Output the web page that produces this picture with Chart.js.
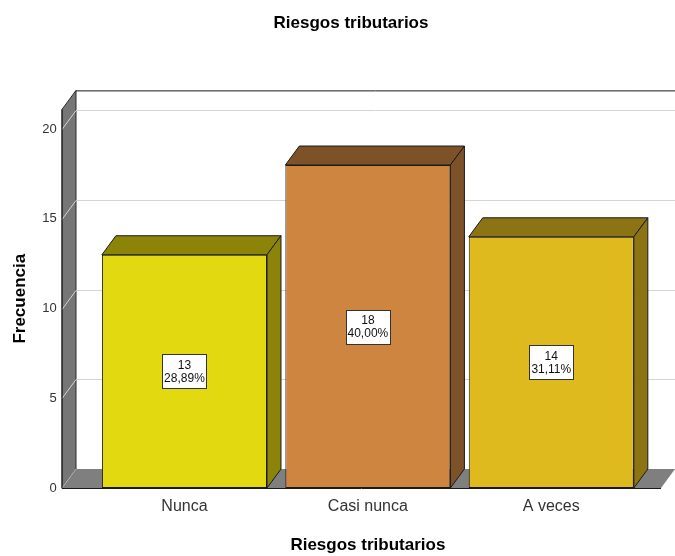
<!DOCTYPE html>
<html lang="es">
<head>
  <meta charset="UTF-8" />
  <title>Riesgos tributarios</title>
  <script src="https://cdnjs.cloudflare.com/ajax/libs/Chart.js/4.4.1/chart.umd.min.js"></script>
  <style>
    body { margin: 0; background: #fff; }
    #wrap { width: 675px; height: 556px; }
  </style>
</head>
<body>
  <div id="wrap"><canvas id="chart" width="675" height="556"></canvas></div>
  <script>
    const categories = ['Nunca', 'Casi nunca', 'A veces'];
    const counts = [13, 18, 14];
    const yTicks = [0, 5, 10, 15, 20];
    const yMax = 21.1;

    const frontColors = ['#E2D911', '#CD853F', '#DFBA1E'];
    const shadeColors = ['#8B8409', '#7E5229', '#8C7414'];

    const total = counts.reduce((s, v) => s + v, 0);
    const pct = v => (v / total * 100).toFixed(2).replace('.', ',') + '%';

    // depth of the 3d look
    const DX = 14, DY = -19;
    const WALL_X = 62;

    function poly(ctx, pts, fill, stroke) {
      ctx.beginPath();
      ctx.moveTo(pts[0][0], pts[0][1]);
      for (let i = 1; i < pts.length; i++) ctx.lineTo(pts[i][0], pts[i][1]);
      ctx.closePath();
      if (fill) { ctx.fillStyle = fill; ctx.fill(); }
      if (stroke) { ctx.strokeStyle = stroke; ctx.lineWidth = 1; ctx.stroke(); }
    }

    function line(ctx, pts, color) {
      ctx.beginPath();
      ctx.moveTo(pts[0][0], pts[0][1]);
      for (let i = 1; i < pts.length; i++) ctx.lineTo(pts[i][0], pts[i][1]);
      ctx.strokeStyle = color;
      ctx.lineWidth = 1;
      ctx.stroke();
    }

    const box3d = {
      id: 'box3d',
      afterLayout(chart) {
        // SPSS puts the title a bit right of the page centre
        chart.titleBlock.left = 27;
        chart.titleBlock.right = chart.width;
      },
      beforeDatasetsDraw(chart) {
        const { ctx, chartArea: a, scales: { y } } = chart;
        const right = chart.width;
        const top = a.top, bot = a.bottom;
        ctx.save();

        // left wall
        poly(ctx, [[WALL_X, top], [WALL_X + DX, top + DY], [WALL_X + DX, bot + DY], [WALL_X, bot]], '#767676', '#2a2a2a');

        // grid lines: diagonal on the wall, flat on the back
        yTicks.forEach(v => {
          const yy = Math.round(y.getPixelForValue(v)) + 0.5;
          line(ctx, [[WALL_X, yy], [WALL_X + DX, yy + DY], [right, yy + DY]], '#d4d4d4');
        });

        // back wall top edge
        line(ctx, [[WALL_X + DX, top + DY + 0.5], [right, top + DY + 0.5]], '#1a1a1a');

        // floor
        poly(ctx, [[WALL_X, bot], [WALL_X + DX, bot + DY], [right, bot + DY], [right - DX, bot]], '#7f7f7f', null);
        line(ctx, [[WALL_X, bot], [WALL_X + DX, bot + DY]], '#b0b0b0');
        line(ctx, [[WALL_X, top], [WALL_X, bot + 0.5], [right - DX, bot + 0.5]], '#1a1a1a');
        ctx.restore();
      },
      afterDatasetsDraw(chart) {
        const { ctx } = chart;
        const meta = chart.getDatasetMeta(0);
        ctx.save();
        meta.data.forEach((bar, i) => {
          const l = bar.x - bar.width / 2, r = bar.x + bar.width / 2;
          const t = bar.y, b = bar.base;
          poly(ctx, [[l, t], [l + DX, t + DY], [r + DX, t + DY], [r, t]], shadeColors[i], '#1a1a1a');
          poly(ctx, [[r, t], [r + DX, t + DY], [r + DX, b + DY], [r, b]], shadeColors[i], '#1a1a1a');

          // value label box
          const cx = bar.x, cy = (t + b) / 2;
          const w = 44, h = 34;
          ctx.fillStyle = '#fff';
          ctx.fillRect(Math.round(cx - w / 2), Math.round(cy - h / 2), w, h);
          ctx.strokeStyle = '#333';
          ctx.strokeRect(Math.round(cx - w / 2) + 0.5, Math.round(cy - h / 2) + 0.5, w, h);
          ctx.fillStyle = '#111';
          ctx.font = '12px "Liberation Sans", Arial, sans-serif';
          ctx.textAlign = 'center';
          ctx.textBaseline = 'middle';
          ctx.fillText(String(counts[i]), cx, cy - 6);
          ctx.fillText(pct(counts[i]), cx, cy + 7);
        });
        ctx.restore();
      }
    };

    Chart.defaults.font.family = '"Liberation Sans", Arial, sans-serif';

    new Chart(document.getElementById('chart'), {
      type: 'bar',
      data: {
        labels: categories,
        datasets: [{
          data: counts,
          backgroundColor: frontColors,
          borderColor: '#1a1a1a',
          borderWidth: 1,
          borderSkipped: false,
          barPercentage: 0.9,
          categoryPercentage: 1
        }]
      },
      options: {
        responsive: false,
        animation: false,
        devicePixelRatio: 1,
        layout: { padding: { left: 0, right: 32, top: 0, bottom: 0 } },
        plugins: {
          legend: { display: false },
          tooltip: { enabled: false },
          title: {
            display: true,
            text: 'Riesgos tributarios',
            color: '#000',
            font: { size: 17, weight: 'bold' },
            padding: { top: 13, bottom: 76 }
          }
        },
        scales: {
          x: {
            offset: true,
            grid: { display: false, drawTicks: false },
            border: { display: false },
            ticks: { color: '#333', font: { size: 16 }, padding: 9 },
            title: {
              display: true,
              text: 'Riesgos tributarios',
              color: '#000',
              font: { size: 17, weight: 'bold' },
              padding: { top: 19, bottom: 0 }
            },
            afterFit(scale) { scale.height = 68; }
          },
          y: {
            min: 0,
            max: yMax,
            grid: { display: false, drawTicks: false },
            border: { display: false },
            ticks: { stepSize: 5, color: '#333', font: { size: 13 }, padding: 36 },
            afterBuildTicks(scale) {
              scale.ticks = yTicks.map(v => ({ value: v }));
            },
            title: {
              display: true,
              text: 'Frecuencia',
              color: '#000',
              font: { size: 17, weight: 'bold' },
              padding: { top: 10, bottom: 0 }
            },
            afterFit(scale) { scale.width = 92.75; }
          }
        }
      },
      plugins: [box3d]
    });
  </script>
</body>
</html>
